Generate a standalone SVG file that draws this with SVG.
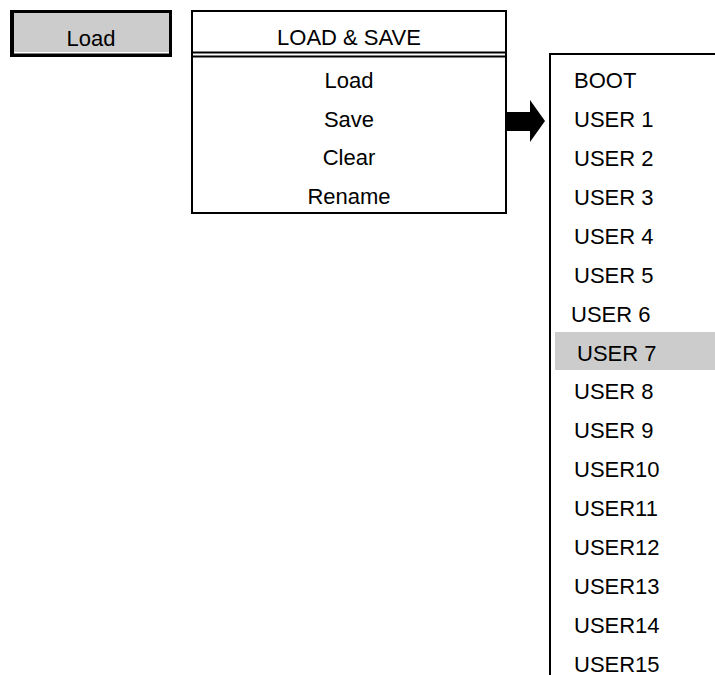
<svg xmlns="http://www.w3.org/2000/svg" width="715" height="675" viewBox="0 0 715 675">
<style>
text{font-family:"Liberation Sans",Arial,sans-serif;font-size:22px;fill:#000}
.c{text-anchor:middle}
.ln{stroke:#000;stroke-width:2;fill:none}
</style>
<rect width="715" height="675" fill="#fff"/>
<g id="load-button">
<rect x="10" y="10" width="162" height="47" fill="#000"/>
<rect x="14" y="13" width="155" height="39" fill="#cccccc"/>
<rect x="14" y="52" width="155" height="1.5" fill="#fff"/>
<text class="c" x="91" y="46">Load</text>
</g>
<g id="load-save-menu">
<rect x="192" y="11" width="314" height="202" fill="#fff" class="ln"/>
<line x1="192" y1="52.5" x2="506" y2="52.5" class="ln"/>
<line x1="192" y1="56.5" x2="506" y2="56.5" class="ln"/>
<text class="c" x="349" y="45">LOAD &amp; SAVE</text>
<text class="c" x="349" y="88">Load</text>
<text class="c" x="349" y="126.5">Save</text>
<text class="c" x="349" y="165">Clear</text>
<text class="c" x="349" y="203.5">Rename</text>
</g>
<g id="connectors">
<polygon points="506,112 530,112 530,100 545,121 530,142 530,131 506,131" fill="#000"/>
</g>
<g id="user-list">
<polyline points="550,675 550,54 715,54" class="ln"/>
<rect x="555" y="332" width="160" height="38" fill="#cccccc"/>
<text x="574" y="88">BOOT</text>
<text x="574" y="126.9">USER 1</text>
<text x="574" y="165.9">USER 2</text>
<text x="574" y="204.8">USER 3</text>
<text x="574" y="243.7">USER 4</text>
<text x="574" y="282.7">USER 5</text>
<text x="571" y="321.6">USER 6</text>
<text x="577" y="360.5">USER 7</text>
<text x="574" y="399.4">USER 8</text>
<text x="574" y="438.4">USER 9</text>
<text x="574" y="477.3">USER10</text>
<text x="574" y="516.2">USER11</text>
<text x="574" y="555.2">USER12</text>
<text x="574" y="594.1">USER13</text>
<text x="574" y="633">USER14</text>
<text x="574" y="671.5">USER15</text>
</g>
</svg>
